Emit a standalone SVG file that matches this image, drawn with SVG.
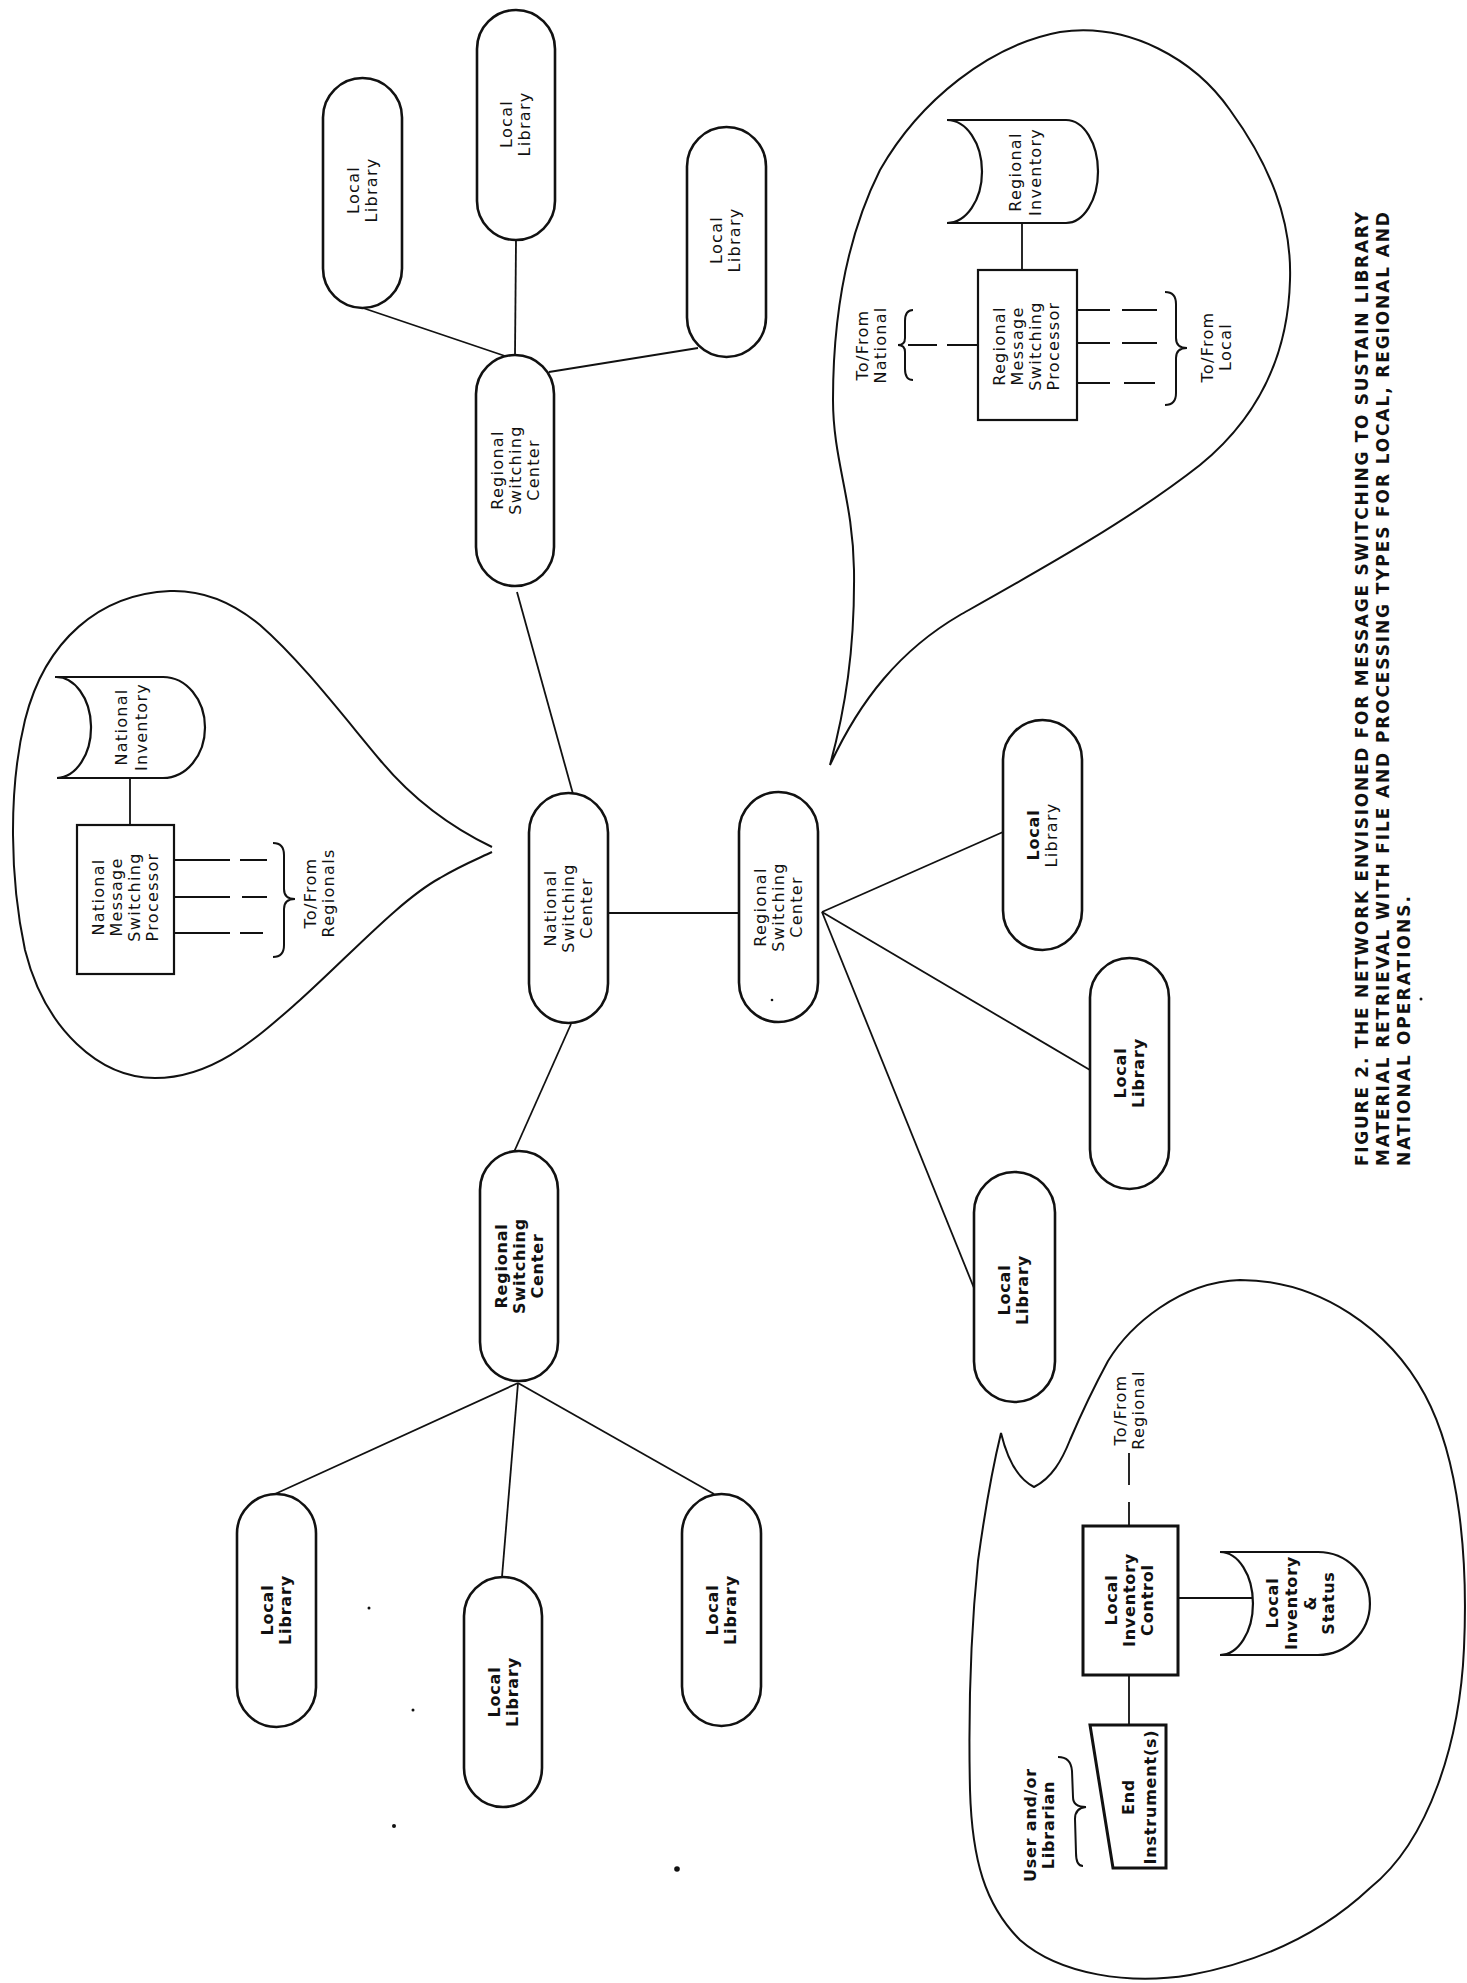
<svg xmlns="http://www.w3.org/2000/svg" width="1467" height="1983" viewBox="0 0 1467 1983">
<style>
.pill{fill:#fff;stroke:#111;stroke-width:2.6}
.box{fill:#fff;stroke:#111;stroke-width:2.2}
.boxb{fill:#fff;stroke:#111;stroke-width:3}
.store{fill:#fff;stroke:#111;stroke-width:2.2}
.bub{fill:none;stroke:#111;stroke-width:2}
.ln{fill:none;stroke:#111;stroke-width:1.8}
.br{fill:none;stroke:#111;stroke-width:2}
text{font-family:"DejaVu Sans","Liberation Sans",sans-serif;font-size:16px;letter-spacing:1.3px;fill:#111;text-anchor:middle;dominant-baseline:central}
.b{font-weight:bold;letter-spacing:0.8px}
.cap{font-size:17px;font-weight:bold;letter-spacing:0;text-anchor:start}
</style>
<rect width="1467" height="1983" fill="#fff"/>

<g id="connectors">
<line class="ln" x1="363" y1="308" x2="508" y2="357"/>
<line class="ln" x1="516" y1="240" x2="515" y2="356"/>
<line class="ln" x1="698" y1="348" x2="549" y2="372"/>
<line class="ln" x1="517" y1="592" x2="573" y2="794"/>
<line class="ln" x1="608" y1="913" x2="740" y2="913"/>
<line class="ln" x1="571" y1="1024" x2="514" y2="1152"/>
<line class="ln" x1="822" y1="912" x2="1003" y2="832"/>
<line class="ln" x1="822" y1="912" x2="1090" y2="1070"/>
<line class="ln" x1="822" y1="912" x2="974" y2="1288"/>
<line class="ln" x1="518" y1="1383" x2="275" y2="1494"/>
<line class="ln" x1="518" y1="1383" x2="502" y2="1577"/>
<line class="ln" x1="518" y1="1383" x2="714" y2="1494"/>
</g>

<g id="top-regional">
<rect class="pill" x="476" y="355" width="78" height="231" rx="39"/>
<g transform="translate(515,470) rotate(-90)"><text y="-18">Regional</text><text y="0">Switching</text><text y="18">Center</text></g>
</g>
<g id="top-local-1">
<rect class="pill" x="323" y="78" width="79" height="230" rx="39.5"/>
<g transform="translate(362,190) rotate(-90)"><text y="-9">Local</text><text y="9">Library</text></g>
</g>
<g id="top-local-2">
<rect class="pill" x="477" y="10" width="78" height="230" rx="39"/>
<g transform="translate(515,124) rotate(-90)"><text y="-9">Local</text><text y="9">Library</text></g>
</g>
<g id="top-local-3">
<rect class="pill" x="687" y="127" width="79" height="230" rx="39.5"/>
<g transform="translate(725,240) rotate(-90)"><text y="-9">Local</text><text y="9">Library</text></g>
</g>

<g id="national-center">
<rect class="pill" x="529" y="793" width="79" height="230" rx="39.5"/>
<g transform="translate(568,908) rotate(-90)"><text y="-18">National</text><text y="0">Switching</text><text y="18">Center</text></g>
</g>

<g id="mid-regional">
<rect class="pill" x="739" y="792" width="79" height="230" rx="39.5"/>
<g transform="translate(778,907) rotate(-90)"><text y="-18">Regional</text><text y="0">Switching</text><text y="18">Center</text></g>
</g>
<g id="mid-local-1">
<rect class="pill" x="1003" y="720" width="79" height="230" rx="39.5"/>
<g transform="translate(1042,835) rotate(-90)"><text class="b" y="-9">Local</text><text y="9">Library</text></g>
</g>
<g id="mid-local-2">
<rect class="pill" x="1090" y="958" width="79" height="231" rx="39.5"/>
<g transform="translate(1129,1073) rotate(-90)"><text class="b" y="-9">Local</text><text class="b" y="9">Library</text></g>
</g>
<g id="mid-local-3">
<rect class="pill" x="974" y="1172" width="81" height="230" rx="40.5"/>
<g transform="translate(1013,1290) rotate(-90)"><text class="b" y="-9">Local</text><text class="b" y="9">Library</text></g>
</g>

<g id="left-regional">
<rect class="pill" x="480" y="1151" width="78" height="230" rx="39"/>
<g transform="translate(519,1266) rotate(-90)"><text class="b" y="-18">Regional</text><text class="b" y="0">Switching</text><text class="b" y="18">Center</text></g>
</g>
<g id="left-local-1">
<rect class="pill" x="237" y="1494" width="79" height="233" rx="39.5"/>
<g transform="translate(276,1610) rotate(-90)"><text class="b" y="-9">Local</text><text class="b" y="9">Library</text></g>
</g>
<g id="left-local-2">
<rect class="pill" x="464" y="1577" width="78" height="230" rx="39"/>
<g transform="translate(503,1692) rotate(-90)"><text class="b" y="-9">Local</text><text class="b" y="9">Library</text></g>
</g>
<g id="left-local-3">
<rect class="pill" x="682" y="1494" width="79" height="232" rx="39.5"/>
<g transform="translate(721,1610) rotate(-90)"><text class="b" y="-9">Local</text><text class="b" y="9">Library</text></g>
</g>

<g id="national-bubble">
<path class="bub" d="M 492,847 C 440,822 405,790 380,760 C 340,712 300,660 260,625 C 230,600 200,590 170,591 C 100,594 45,640 25,720 C 8,790 10,880 25,950 C 45,1030 100,1078 155,1078 C 215,1078 260,1035 300,1000 C 350,955 400,900 440,878 C 460,866 475,860 492,852"/>
<path class="store" d="M 55,677 L 163,677 A 42 50.5 0 0 1 163,778 L 57,778 A 35 50.5 0 0 0 55,677 Z"/>
<g transform="translate(131,727) rotate(-90)"><text y="-10">National</text><text y="10">Inventory</text></g>
<line class="ln" x1="130" y1="778" x2="130" y2="825"/>
<rect class="box" x="77" y="825" width="97" height="149"/>
<g transform="translate(125,897) rotate(-90)"><text y="-27">National</text><text y="-9">Message</text><text y="9">Switching</text><text y="27">Processor</text></g>
<path class="ln" d="M174,860 H230 M240,860 H267 M174,897 H230 M242,897 H267 M174,933 H230 M240,933 H263"/>
<path class="br" d="M 273,843 Q 284,843 284,855 L 284,889 Q 284,899 295,899 Q 284,899 284,909 L 284,945 Q 284,957 273,957"/>
<g transform="translate(319,893) rotate(-90)"><text y="-9">To/From</text><text y="9">Regionals</text></g>
</g>

<g id="regional-bubble">
<path class="bub" d="M 830,765 C 845,710 855,650 854,570 C 853,500 833,460 833,400 C 833,320 845,240 880,170 C 920,100 990,45 1060,32 C 1130,22 1195,60 1230,110 C 1270,165 1292,220 1290,280 C 1288,360 1255,420 1200,465 C 1130,520 1040,570 960,615 C 900,650 860,700 830,765 Z"/>
<path class="store" d="M 947,120 L 1066,120 A 32 51.5 0 0 1 1066,223 L 947,223 A 35 51.5 0 0 0 947,120 Z"/>
<g transform="translate(1025,172) rotate(-90)"><text y="-10">Regional</text><text y="10">Inventory</text></g>
<line class="ln" x1="1022" y1="223" x2="1022" y2="270"/>
<rect class="box" x="978" y="270" width="99" height="150"/>
<g transform="translate(1026,346) rotate(-90)"><text y="-27">Regional</text><text y="-9">Message</text><text y="9">Switching</text><text y="27">Processor</text></g>
<path class="ln" d="M1077,310 H1110 M1122,310 H1157 M1077,343 H1110 M1122,343 H1157 M1077,383 H1110 M1124,383 H1155"/>
<path class="ln" d="M978,345 H947 M937,345 H908"/>
<path class="br" d="M 1165,292 Q 1176,292 1176,304 L 1176,338 Q 1176,348 1187,348 Q 1176,348 1176,358 L 1176,393 Q 1176,405 1165,405"/>
<path class="br" d="M 913,310 Q 905,310 905,321 L 905,338 Q 905,345 898,345 Q 905,345 905,352 L 905,369 Q 905,380 913,380"/>
<g transform="translate(1216,347) rotate(-90)"><text y="-9">To/From</text><text y="9">Local</text></g>
<g transform="translate(871,345) rotate(-90)"><text y="-9">To/From</text><text y="9">National</text></g>
</g>

<g id="local-bubble">
<path class="bub" d="M 1001,1433 C 1008,1462 1020,1480 1034,1487 C 1052,1478 1062,1460 1070,1440 C 1085,1405 1095,1385 1108,1361 C 1130,1325 1180,1282 1240,1280 C 1320,1280 1390,1330 1425,1395 C 1460,1460 1468,1560 1464,1648 C 1460,1740 1430,1840 1370,1888 C 1320,1935 1260,1962 1190,1975 C 1130,1985 1060,1975 1020,1940 C 985,1905 972,1860 970,1790 C 968,1700 972,1620 978,1561 C 985,1510 992,1470 1001,1433 Z"/>
<rect class="boxb" x="1083" y="1526" width="95" height="149"/>
<g transform="translate(1129,1600) rotate(-90)"><text class="b" y="-18">Local</text><text class="b" y="0">Inventory</text><text class="b" y="18">Control</text></g>
<path class="ln" d="M1129,1526 V1502 M1129,1485 V1453"/>
<g transform="translate(1129,1410) rotate(-90)"><text y="-9">To/From</text><text y="9">Regional</text></g>
<line class="ln" x1="1178" y1="1598" x2="1253" y2="1598"/>
<path class="store" d="M 1220,1552 L 1318,1552 A 52 51.5 0 0 1 1318,1655 L 1220,1655 A 33 51.5 0 0 0 1220,1552 Z"/>
<g transform="translate(1300,1603) rotate(-90)"><text class="b" y="-28">Local</text><text class="b" y="-9">Inventory</text><text class="b" y="10">&amp;</text><text class="b" y="28">Status</text></g>
<line class="ln" x1="1129" y1="1675" x2="1129" y2="1725"/>
<path class="boxb" d="M 1090,1725 L 1166,1725 L 1166,1868 L 1113,1868 Z"/>
<g transform="translate(1139,1797) rotate(-90)"><text class="b" y="-11">End</text><text class="b" y="11">Instrument(s)</text></g>
<path class="br" d="M 1058,1757 Q 1071,1757 1072,1771 L 1073,1797 Q 1073,1807 1086,1807 Q 1075,1808 1075,1819 L 1076,1853 Q 1076,1866 1083,1866"/>
<g transform="translate(1039,1825) rotate(-90)"><text class="b" y="-9">User and/or</text><text class="b" y="9">Librarian</text></g>
</g>

<g id="caption">
<g transform="translate(1362,1166) rotate(-90)">
<text class="cap" x="0" y="0" textLength="954" lengthAdjust="spacing">FIGURE 2.  THE NETWORK ENVISIONED FOR MESSAGE SWITCHING TO SUSTAIN LIBRARY</text>
<text class="cap" x="0" y="21" textLength="954" lengthAdjust="spacing">MATERIAL RETRIEVAL WITH FILE AND PROCESSING TYPES FOR LOCAL, REGIONAL AND</text>
<text class="cap" x="0" y="42" textLength="270" lengthAdjust="spacing">NATIONAL OPERATIONS.</text>
</g>
</g>

<g id="specks" fill="#111">
<circle cx="369" cy="1608" r="1.5"/>
<circle cx="413" cy="1710" r="1.5"/>
<circle cx="394" cy="1826" r="2"/>
<circle cx="677" cy="1869" r="2.8"/>
<circle cx="772" cy="1000" r="1.3"/>
<circle cx="1421" cy="999" r="1.5"/>
</g>
</svg>
